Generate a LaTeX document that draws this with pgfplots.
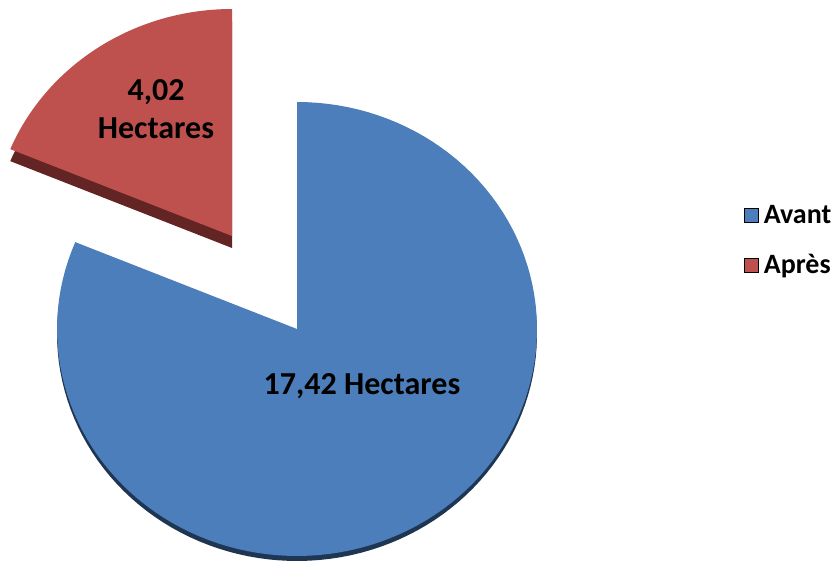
\documentclass[border=0pt]{standalone}
\usepackage{pgfplots}
\pgfplotsset{compat=1.18}
\usepackage{fontspec}
\setmainfont{Carlito}
\definecolor{bluetop}{HTML}{4B7EBA}
\definecolor{blueside}{HTML}{1F3653}
\definecolor{redtop}{HTML}{BE514E}
\definecolor{redside}{HTML}{632523}
% data (hectares)
\def\valAvant{17.42}
\def\valApres{4.02}
\begin{document}
\begin{tikzpicture}
\pgfmathsetmacro\angApres{360*\valApres/(\valAvant+\valApres)}
\pgfmathsetmacro\bstart{90+\angApres}
\pgfmathsetmacro\bend{450}
\pgfmathsetmacro\rstart{90}
\pgfmathsetmacro\rend{90+\angApres}
\begin{axis}[
  scale only axis, width=418pt, height=285.5pt,
  xmin=0, xmax=836, ymin=0, ymax=571, y dir=reverse,
  hide axis, clip=false,
  legend style={at={(axis cs:744,203)}, anchor=north west, draw=none, fill=none,
    inner sep=0pt, outer sep=0pt,
    font=\bfseries\fontsize{14}{16}\selectfont, row sep=12pt,
    /tikz/every odd column/.append style={column sep=1.5pt},
    nodes={inner sep=1pt}},
  legend cell align=left,
  legend image code/.code={\fill[#1] (0pt,-3.5pt) rectangle (7pt,3.5pt);},
]
% Avant (blue) side
\addplot[fill=blueside, draw=none, domain=\bstart:\bend, samples=120, variable=\t, forget plot]
  ({297+240*cos(t)}, {334-227*sin(t)}) -- (axis cs:297,334) -- cycle;
% Avant top
\addplot[fill=bluetop, draw=none, domain=\bstart:\bend, samples=120, variable=\t, forget plot]
  ({297+240*cos(t)}, {329-227*sin(t)}) -- (axis cs:297,329) -- cycle;
% Apres (red) side
\addplot[fill=redside, draw=none, domain=\rstart:\rend, samples=60, variable=\t, forget plot]
  ({232+240*cos(t)}, {248-227*sin(t)}) -- (axis cs:232,248) -- cycle;
% Apres top
\addplot[fill=redtop, draw=none, domain=\rstart:\rend, samples=60, variable=\t, forget plot]
  ({232+240*cos(t)}, {236-227*sin(t)}) -- (axis cs:232,236) -- cycle;
\addlegendimage{fill=bluetop}
\addlegendentry{Avant}
\addlegendimage{fill=redtop}
\addlegendentry{Après}
\node[font=\bfseries\fontsize{16}{19}\selectfont] at (axis cs:362,386) {17,42 Hectares};
\node[font=\bfseries\fontsize{16}{19}\selectfont, align=center] at (axis cs:156,109) {4,02\\Hectares};
\end{axis}
\pgfresetboundingbox
\path (current axis.south west) rectangle (current axis.north east);
\end{tikzpicture}
\end{document}
